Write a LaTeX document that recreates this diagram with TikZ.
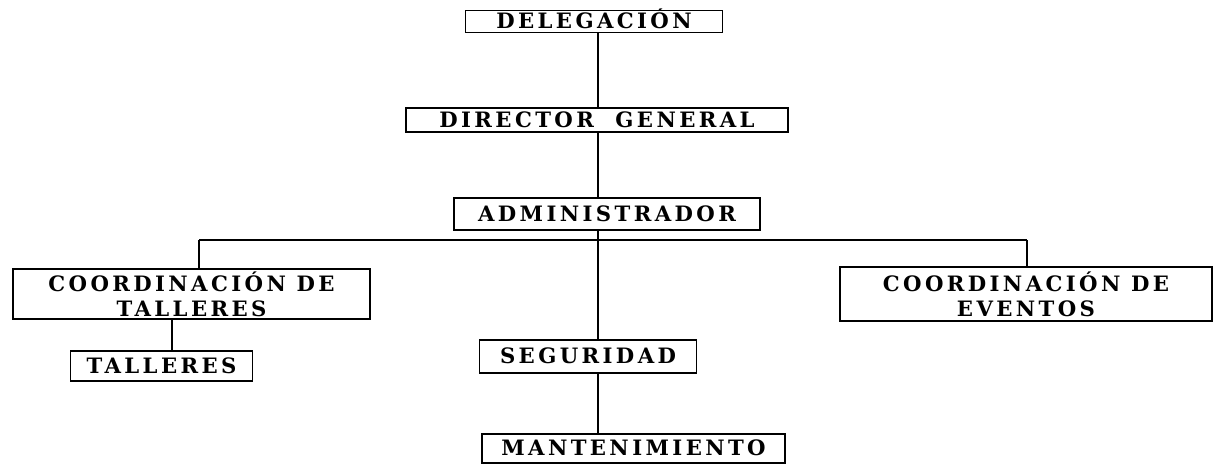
\documentclass[tikz,border=0pt]{standalone}
\usepackage{fontspec}
\usepackage{tikz}
\usetikzlibrary{calc, positioning}
\newfontfamily\orgfont{DejaVu Serif}[LetterSpace=16, BoldFont={DejaVu Serif Bold}]

\begin{document}
\begin{tikzpicture}[x=0.5pt, y=-0.5pt,
        box/.style={draw=black, line width=0.6pt, inner sep=0pt, align=center,
            font=\orgfont\bfseries\fontsize{10.6pt}{12.5pt}\selectfont},
        single/.style={box, text height=0.73em, text depth=0pt},
        link/.style={black, line width=0.6pt}
    ]
    \useasboundingbox (0,0) rectangle (1213,465);
    \node[single, minimum width=128.5pt, minimum height=11pt] (dele) at (594,21.5) {DELEGACIÓN};
    \node[single, minimum width=191pt, minimum height=12pt] (dir) at (597,120) {DIRECTOR \ GENERAL};
    \node[single, minimum width=153pt, minimum height=16pt] (admin) at (607,214) {ADMINISTRADOR};
    \node[box, minimum width=178.5pt, minimum height=25pt] (ctall) at (191.5,294) {COORDINACIÓN DE\\TALLERES};
    \node[single, minimum width=91pt, minimum height=15pt] (tall) at (161.5,366) {TALLERES};
    \node[box, minimum width=186pt, minimum height=27pt] (cevent) at (1026,294) {COORDINACIÓN DE\\EVENTOS};
    \node[single, minimum width=108.5pt, minimum height=16.5pt] (seg) at (588,356.5) {SEGURIDAD};
    \node[single, minimum width=151.5pt, minimum height=14.5pt] (mant) at (633.5,448.5) {MANTENIMIENTO};
    \coordinate (spine) at (598,240);
    \coordinate (lbar) at (199,240);
    \coordinate (rbar) at (1027,240);
    \coordinate (tlink) at (172,340);
    \draw[link] (dele.south -| spine) -- (dir.north -| spine);
    \draw[link] (dir.south -| spine) -- (admin.north -| spine);
    \draw[link] (admin.south -| spine) -- (seg.north -| spine);
    \draw[link] (seg.south -| spine) -- (mant.north -| spine);
    \draw[link] (lbar) -- (rbar);
    \draw[link] (lbar) -- (ctall.north -| lbar);
    \draw[link] (rbar) -- (cevent.north -| rbar);
    \draw[link] (ctall.south -| tlink) -- (tall.north -| tlink);
\end{tikzpicture}
\end{document}
